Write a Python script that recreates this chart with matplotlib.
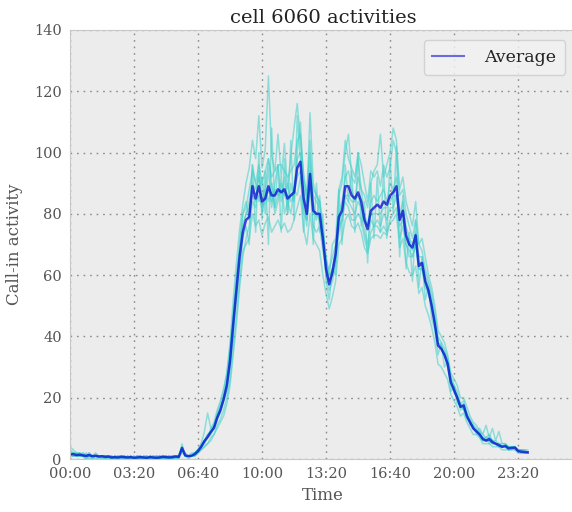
import numpy as np
import matplotlib
matplotlib.use("Agg")
import matplotlib.pyplot as plt

# call-in activity of cell 6060, one value per 10-minute slot (144 slots a day)
tick_slots = [0, 20, 40, 60, 80, 100, 120, 140]
tick_labels = ["00:00", "03:20", "06:40", "10:00", "13:20", "16:40", "20:00", "23:20"]

average = [
    1.5, 1.6, 1.3, 1.4, 1.2, 1.0, 1.3, 0.9, 1.1, 0.8, 0.9, 0.7, 0.8, 0.5, 0.6, 0.5, 0.7, 0.6, 0.5, 0.6, 0.4, 0.5, 0.6, 0.5,
    0.4, 0.6, 0.5, 0.4, 0.5, 0.7, 0.6, 0.5, 0.6, 0.8, 0.7, 3.6, 1.2, 0.9, 1.1, 1.6, 2.6, 4.0, 5.8, 7.2, 8.8, 10.2, 13.5, 16.0,
    19.5, 24, 32, 44, 55, 66, 74, 78, 79, 89, 85, 89, 84, 85, 89, 86, 86, 88, 87, 88, 85, 86, 87, 95,
    97, 85, 80, 93, 81, 80, 80, 72, 62, 57, 61, 67, 79, 81, 89, 89, 86, 85, 87, 84, 78, 75, 81, 82,
    83, 82, 84, 83, 86, 87, 89, 78, 81, 73, 70, 69, 73, 63, 64, 58, 55, 50, 44, 37, 36, 34, 31, 25,
    22.5, 20, 17, 17.5, 14, 12, 10, 9, 8, 6.5, 6, 6.5, 5.5, 5, 4.5, 4, 4.3, 3.5, 3.6, 3.7, 2.6, 2.4, 2.3, 2.2,
]

day1 = [
    4, 3, 2, 2, 1, 2, 1, 1, 2, 1, 0, 1, 1, 0, 1, 0, 0, 1, 0, 0, 1, 0, 0, 1,
    0, 1, 0, 0, 1, 0, 1, 0, 0, 1, 1, 4, 1, 1, 1, 2, 3, 4, 6, 8, 9, 11, 15, 18,
    22, 28, 38, 52, 64, 75, 83, 90, 95, 104, 98, 112, 95, 101, 125, 99, 94, 106, 92, 103, 88, 99, 108, 116,
    104, 93, 85, 113, 90, 86, 84, 76, 66, 60, 70, 72, 88, 92, 104, 98, 95, 92, 100, 96, 90, 84, 94, 92,
    94, 89, 96, 92, 95, 104, 100, 86, 88, 80, 76, 72, 78, 70, 68, 62, 58, 54, 48, 40, 38, 36, 33, 27,
    24, 22, 18, 19, 15, 13, 11, 10, 8, 7, 7, 7, 6, 5, 5, 4, 4, 4, 4, 4, 3, 3, 3, 2,
]
day2 = [
    1, 1, 1, 2, 1, 0, 1, 1, 0, 1, 1, 0, 1, 0, 0, 1, 1, 0, 0, 1, 0, 1, 1, 0,
    1, 0, 1, 1, 0, 1, 0, 1, 1, 0, 1, 2, 1, 0, 1, 1, 2, 3, 4, 5, 7, 8, 11, 13,
    16, 20, 26, 36, 47, 58, 68, 70, 72, 80, 76, 78, 73, 77, 79, 74, 76, 78, 75, 77, 74, 75, 78, 82,
    86, 75, 70, 80, 72, 70, 68, 60, 54, 49, 53, 58, 70, 72, 78, 80, 76, 75, 77, 74, 69, 67, 72, 73,
    73, 72, 74, 73, 77, 78, 80, 69, 72, 64, 61, 60, 63, 54, 56, 50, 47, 43, 38, 31, 30, 28, 26, 21,
    19, 17, 14, 15, 12, 10, 8, 8, 7, 5, 5, 5, 4, 4, 4, 3, 3, 3, 3, 3, 2, 2, 2, 2,
]
day3 = [
    2, 2, 1, 1, 2, 1, 2, 0, 1, 1, 1, 1, 0, 1, 0, 1, 1, 0, 1, 0, 0, 1, 0, 0,
    0, 1, 1, 0, 0, 1, 1, 0, 1, 1, 0, 3, 2, 1, 1, 2, 3, 5, 6, 7, 10, 11, 14, 17,
    20, 25, 30, 40, 58, 70, 80, 84, 78, 96, 90, 84, 92, 80, 95, 82, 90, 96, 84, 92, 80, 90, 84, 100,
    110, 88, 76, 96, 84, 78, 86, 74, 60, 55, 58, 64, 86, 90, 100, 106, 92, 90, 98, 88, 86, 82, 90, 94,
    96, 106, 92, 96, 100, 108, 104, 88, 92, 84, 80, 76, 84, 70, 72, 66, 60, 56, 50, 42, 40, 38, 34, 28,
    26, 24, 20, 20, 17, 14, 12, 11, 9, 8, 7, 8, 6, 6, 5, 5, 5, 4, 4, 4, 3, 3, 3, 3,
]
day4 = [
    1, 2, 1, 1, 1, 0, 1, 1, 1, 0, 1, 1, 0, 0, 1, 0, 1, 1, 0, 1, 0, 0, 1, 0,
    1, 0, 0, 1, 1, 0, 0, 1, 0, 1, 1, 4, 1, 1, 1, 1, 2, 3, 4, 5, 6, 8, 10, 12,
    14, 18, 24, 34, 44, 56, 66, 72, 76, 84, 82, 94, 80, 88, 98, 90, 82, 86, 92, 80, 84, 80, 88, 86,
    92, 80, 78, 88, 76, 74, 76, 68, 62, 58, 60, 64, 74, 78, 86, 84, 82, 80, 84, 82, 74, 70, 78, 76,
    78, 76, 80, 78, 82, 82, 86, 76, 78, 70, 68, 66, 70, 62, 62, 56, 54, 50, 44, 38, 36, 34, 32, 26,
    24, 20, 18, 16, 14, 12, 11, 9, 10, 8, 11, 7, 10, 6, 9, 5, 5, 4, 4, 4, 3, 3, 2, 2,
]
day5 = [
    2, 1, 2, 1, 1, 1, 1, 0, 1, 1, 0, 0, 1, 1, 0, 0, 1, 0, 1, 0, 1, 0, 0, 1,
    0, 1, 0, 1, 0, 1, 0, 1, 0, 0, 1, 3, 1, 1, 1, 2, 3, 5, 9, 15, 10, 12, 16, 19,
    23, 28, 36, 48, 60, 68, 76, 80, 84, 90, 88, 92, 86, 88, 84, 90, 80, 84, 90, 86, 90, 84, 86, 98,
    100, 90, 84, 94, 86, 84, 82, 72, 64, 62, 66, 70, 80, 84, 92, 94, 88, 84, 92, 88, 80, 76, 84, 86,
    84, 86, 88, 84, 90, 88, 92, 80, 84, 76, 72, 70, 74, 66, 66, 60, 57, 52, 46, 38, 37, 35, 32, 25,
    23, 21, 17, 18, 14, 12, 10, 9, 8, 7, 6, 7, 6, 5, 5, 4, 4, 4, 4, 4, 3, 3, 2, 2,
]
day6 = [
    3, 2, 2, 1, 2, 1, 1, 1, 1, 1, 1, 0, 1, 0, 1, 1, 0, 0, 1, 0, 0, 1, 0, 1,
    1, 0, 1, 0, 1, 0, 1, 0, 1, 1, 0, 5, 1, 1, 2, 2, 3, 4, 6, 7, 9, 10, 13, 15,
    19, 22, 30, 42, 52, 62, 72, 76, 70, 96, 74, 100, 78, 94, 70, 108, 82, 96, 74, 98, 80, 104, 78, 112,
    98, 74, 86, 104, 70, 90, 74, 80, 58, 52, 62, 60, 88, 70, 96, 84, 94, 74, 100, 76, 84, 64, 90, 72,
    92, 74, 94, 72, 98, 80, 102, 66, 86, 62, 74, 58, 78, 56, 66, 52, 56, 46, 42, 34, 38, 30, 32, 22,
    24, 18, 18, 16, 15, 11, 11, 8, 9, 6, 7, 5, 6, 5, 5, 4, 4, 3, 4, 3, 3, 2, 2, 2,
]
day7 = [
    1, 1, 1, 1, 1, 1, 0, 1, 1, 1, 1, 1, 1, 1, 0, 0, 0, 1, 0, 1, 0, 0, 1, 0,
    0, 0, 0, 0, 0, 1, 0, 0, 1, 1, 1, 3, 1, 1, 1, 1, 2, 4, 5, 7, 8, 10, 13, 16,
    19, 24, 34, 46, 56, 68, 76, 80, 82, 86, 84, 86, 82, 84, 88, 84, 88, 86, 88, 86, 84, 86, 86, 92,
    94, 82, 78, 90, 80, 80, 78, 70, 64, 60, 62, 68, 78, 80, 86, 86, 84, 84, 86, 82, 78, 76, 80, 80,
    80, 80, 82, 82, 84, 86, 86, 78, 80, 72, 70, 68, 72, 64, 64, 58, 55, 50, 45, 38, 36, 34, 31, 25,
    22, 20, 17, 17, 14, 12, 10, 9, 8, 7, 6, 6, 5, 5, 4, 4, 4, 3, 4, 4, 3, 2, 2, 2,
]
day8 = [
    2, 1, 1, 2, 1, 1, 2, 1, 1, 1, 1, 1, 1, 0, 1, 0, 1, 1, 0, 1, 0, 1, 1, 0,
    0, 1, 0, 0, 1, 1, 1, 1, 0, 1, 1, 3, 1, 1, 1, 2, 3, 4, 6, 8, 9, 11, 14, 16,
    20, 25, 34, 46, 58, 70, 80, 82, 88, 94, 90, 96, 90, 94, 98, 92, 94, 96, 96, 94, 92, 94, 96, 104,
    106, 92, 86, 100, 88, 86, 84, 74, 66, 58, 62, 66, 76, 78, 84, 82, 78, 78, 80, 78, 72, 68, 74, 76,
    76, 74, 76, 74, 78, 80, 82, 72, 76, 70, 66, 66, 70, 62, 62, 58, 54, 50, 44, 38, 36, 34, 30, 25,
    22, 20, 16, 17, 13, 12, 10, 9, 7, 6, 6, 6, 5, 5, 4, 4, 4, 3, 3, 4, 2, 2, 2, 2,
]
days = [day1, day2, day3, day4, day5, day6, day7, day8]

for d in days:
    assert len(d) == len(average) == 144, len(d)

plt.rcParams["font.family"] = ["DejaVu Serif"]

fig = plt.figure(figsize=(5.72, 5.12), dpi=100)
ax = fig.add_axes([0.1224, 0.1035, 0.884, 0.838])
ax.set_facecolor("#ececec")

slots = np.arange(144)
for d in days:
    ax.plot(slots, d, color="#3fd0ca", alpha=0.55, lw=1.1)
ax.plot(slots, average, color="#0000d0", alpha=0.72, lw=1.8, label="Average")

ax.set_xlim(0, 158)
ax.set_ylim(0, 140)
ax.set_xticks(tick_slots)
ax.set_xticklabels(tick_labels)
ax.set_yticks(range(0, 141, 20))
ax.tick_params(length=0, labelsize=10.5, labelcolor="#555555", pad=6)
ax.grid(True, linestyle=(0, (1.2, 3.5)), color="#8a8a8a", lw=1)
ax.set_axisbelow(True)
for s in ax.spines.values():
    s.set_color("#c8c8c8")

ax.set_xlabel("Time", fontsize=12, color="#555555", labelpad=4)
ax.set_ylabel("Call-in activity", fontsize=12, color="#555555", labelpad=8)
ax.set_title("cell 6060 activities", fontsize=14, color="#222222", pad=5)

leg = ax.legend(loc="upper right", fontsize=12.5, frameon=True, fancybox=True,
                handlelength=1.8, handletextpad=1.2, borderpad=0.5, borderaxespad=0.6)
leg.get_frame().set_facecolor("#f2f2f2")
leg.get_frame().set_edgecolor("#cccccc")
for line in leg.get_lines():
    line.set_linewidth(1.5)
    line.set_alpha(0.55)
for t in leg.get_texts():
    t.set_color("#222222")

fig.savefig("out.png", dpi=100)
